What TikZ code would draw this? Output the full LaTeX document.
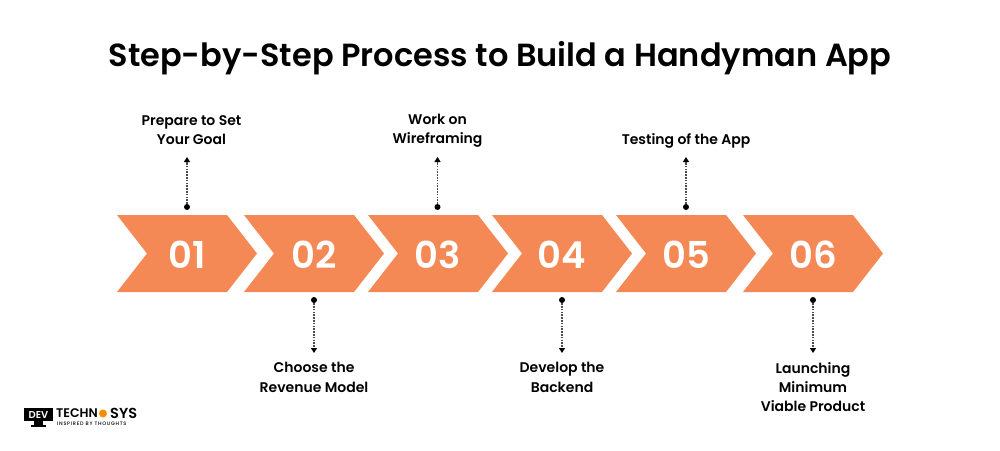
\documentclass[tikz,border=0pt]{standalone}
\usepackage{fontspec}
\setmainfont{Poppins}
\usetikzlibrary{arrows.meta}
\newfontfamily\fnum{Poppins SemiBold}
\newfontfamily\flbl{Poppins SemiBold}
\newfontfamily\ftitle{Poppins SemiBold}
\newfontfamily\ftag[LetterSpace=14]{Poppins Medium}
\newfontfamily\flogo{Poppins SemiBold}
\definecolor{chev}{HTML}{F48955}
\tikzset{x=1pt,y=-1pt,
 chevron/.style={fill=chev,draw=none},
 num/.style={text=white,font=\fontsize{37}{37}\selectfont\fnum,inner sep=0,anchor=center},
 lbl/.style={font=\fontsize{14}{19.3}\selectfont\flbl,align=center,inner sep=0,text=black},
 dot/.style={circle,fill=black,minimum size=6pt,inner sep=0},
 leader/.style={dash pattern=on 1.6pt off 1.2pt,line width=1.3pt,black!70,-{Triangle[length=5pt,width=6pt,black]}},
}
\newcommand{\chevshape}[2]{%
 \fill[chevron] (#1,215) -- ++(110,0) -- ++(30,38.5) -- ++(-30,38.5) -- ++(-110,0) -- ++(30,-38.5) -- cycle;
 \node[num] (n#2) at (#1+70,254.5) {#2};}
\begin{document}
\begin{tikzpicture}
\useasboundingbox (0,0) rectangle (1000,450);
\fill[white] (0,0) rectangle (1000,450);
\node[inner sep=0,font=\fontsize{32}{32}\selectfont\ftitle] (title) at (500,58.5) {Step-by-Step Process to Build a Handyman App};
\chevshape{117}{01}
\chevshape{244}{02}
\chevshape{368}{03}
\chevshape{492}{04}
\chevshape{616}{05}
\chevshape{743}{06}
% top
\node[dot] (d1) at (187,207) {};
\node[dot] (d3) at (437.5,207) {};
\node[dot] (d5) at (686,207) {};
\coordinate (e1) at (187,157);
\coordinate (e3) at (437.5,157);
\coordinate (e5) at (686,157);
\draw[leader] (d1) -- (e1);
\draw[leader] (d3) -- (e3);
\draw[leader] (d5) -- (e5);
\node[lbl] (l1) at (191.5,130) {Prepare to Set\\Your Goal};
\node[lbl] (l3) at (437.5,131) {Work on\\Wireframing};
\node[lbl] (l5) at (686,141) {Testing of the App};
% bottom
\node[dot] (d2) at (314,300) {};
\node[dot] (d4) at (562,300) {};
\node[dot] (d6) at (813,300) {};
\coordinate (e2) at (314,353);
\coordinate (e4) at (562,353);
\coordinate (e6) at (813,353);
\draw[leader] (d2) -- (e2);
\draw[leader] (d4) -- (e4);
\draw[leader] (d6) -- (e6);
\node[lbl] (l2) at (314,377.5) {Choose the\\Revenue Model};
\node[lbl] (l4) at (562,377.5) {Develop the\\Backend};
\node[lbl] (l6) at (813,387) {Launching\\Minimum\\Viable Product};
% logo
\fill[black] (24,408) rectangle (53,421);
\fill[black] (34,421) rectangle (43,425);
\fill[black] (31,425) rectangle (46,426.5);
\node[inner sep=0,text=white,font=\fontsize{10}{10}\selectfont\flogo] (logod) at (38.5,414.5) {DEV};
\node[inner sep=0,anchor=west,font=\fontsize{12.5}{12.5}\selectfont\flogo] (logot) at (56,413) {TECHN};
\fill[orange!90!yellow] (103,413.5) circle (4);
\node[inner sep=0,anchor=west,font=\fontsize{14.5}{14.5}\selectfont\flogo] (logos) at (110,413) {SYS};
\node[inner sep=0,anchor=west,font=\fontsize{5}{5}\selectfont\ftag] (logoi) at (57,423.5) {INSPIRED BY THOUGHTS};
\end{tikzpicture}
\end{document}
